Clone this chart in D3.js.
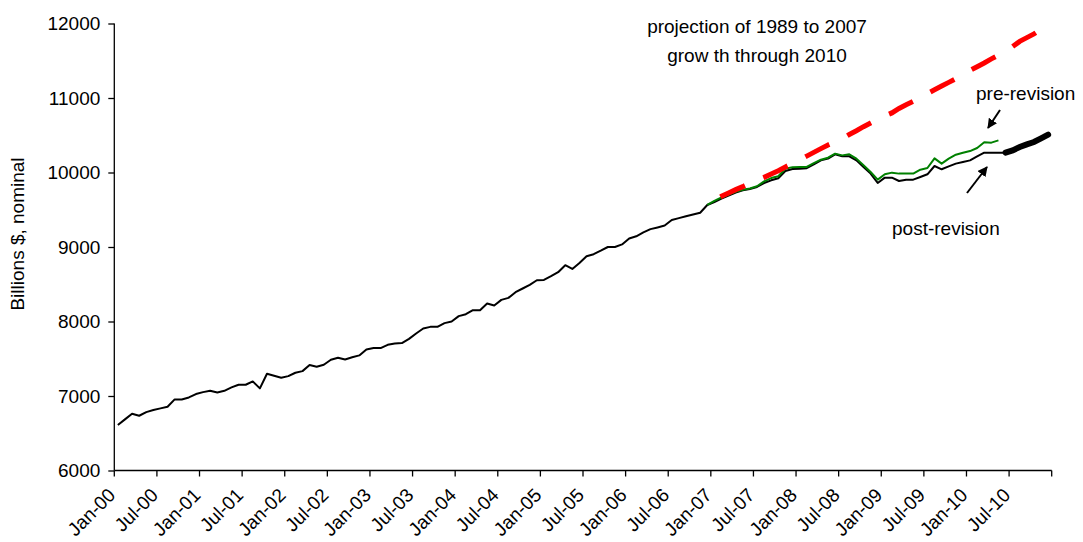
<!doctype html>
<html lang="en">
<head>
  <style>
    body { margin: 0; background: #fff; }
    svg text { font-family: "Liberation Sans", Arial, sans-serif; fill: #000; }
    .axis path, .axis line { stroke: #000; stroke-width: 1.3; }
    .axis text { font-size: 19px; }
    .note { font-size: 19px; }
  </style>
  <script src="https://d3js.org/d3.v7.min.js"></script>
</head>
<body>
  <script>
    // categories: one per month, Jan-00 .. Dec-10
    const monthNames = ["Jan","Feb","Mar","Apr","May","Jun","Jul","Aug","Sep","Oct","Nov","Dec"];
    const yearLabels = ["00","01","02","03","04","05","06","07","08","09","10"];
    const yTicks = [6000, 7000, 8000, 9000, 10000, 11000, 12000];

    // post-revision series, starts Jan-00
    const postStart = "Jan-00";
    const postRevision = [
      6610, 6686, 6762, 6735, 6784, 6811, 6834, 6856, 6954, 6954, 6981, 7026,
      7052, 7070, 7048, 7070, 7115, 7151, 7151, 7196, 7102, 7298, 7271, 7245,
      7267, 7312, 7334, 7415, 7392, 7419, 7486, 7513, 7491, 7520, 7545, 7625,
      7643, 7643, 7687, 7705, 7710, 7767, 7839, 7906, 7928, 7928, 7978, 8000,
      8072, 8098, 8152, 8152, 8242, 8215, 8290, 8317, 8393, 8443, 8492, 8554,
      8558, 8608, 8662, 8756, 8706, 8785, 8876, 8903, 8950, 9000, 9000, 9035,
      9115, 9144, 9196, 9240, 9263, 9288, 9363, 9388, 9412, 9435, 9460, 9564,
      9604, 9649, 9690, 9730, 9761, 9779, 9806, 9859, 9895, 9922, 10020, 10047,
      10050, 10058, 10110, 10163, 10186, 10244, 10217, 10217, 10163, 10073, 9985, 9859,
      9931, 9931, 9886, 9904, 9904, 9940, 9976, 10087, 10043, 10083, 10119, 10141,
      10163, 10217, 10266, 10266, 10266, 10266
    ];

    // pre-revision series, starts Dec-06
    const preStart = "Dec-06";
    const preRevision = [
      9564, 9620, 9665, 9705, 9742, 9768, 9785, 9815, 9880, 9925, 9950, 10050,
      10072, 10073, 10075, 10127, 10172, 10199, 10253, 10230, 10244, 10186, 10096, 10007,
      9904, 9976, 9998, 9985, 9985, 9985, 10038, 10060, 10190, 10119, 10186, 10239,
      10266, 10288, 10329, 10405, 10401, 10431
    ];

    // latest months (thick), starts Jun-10
    const latestStart = "Jun-10";
    const latest = [10266, 10297, 10342, 10378, 10409, 10458, 10508];

    // projection of 1989-2007 growth, starts Jan-07
    const projStart = "Jan-07";
    const projection = [
      9625, 9680, 9725, 9770, 9810, 9855, 9895, 9935, 9980, 10025, 10075, 10120,
      10170, 10220, 10270, 10320, 10370, 10410, 10455, 10510, 10560, 10615, 10665, 10715,
      10760, 10800, 10860, 10910, 10955, 11000, 11060, 11110, 11160, 11210, 11260, 11320,
      11370, 11420, 11470, 11525, 11575, 11630, 11690, 11760, 11810, 11860, 11920, 11975
    ];

    const categories = [];
    yearLabels.forEach(yr => monthNames.forEach(m => categories.push(m + "-" + yr)));

    const W = 1083, H = 542;
    const plotLeft = 114.3, plotRight = 1051.7, plotTop = 23.5, plotBottom = 470.5;

    const svg = d3.select("body").append("svg")
      .attr("width", W).attr("height", H);

    const x = d3.scaleBand().domain(categories).range([plotLeft, plotRight]).padding(0);
    const y = d3.scaleLinear().domain([6000, 12000]).range([plotBottom, plotTop]);
    const cx = c => x(c) + x.bandwidth() / 2;

    // x axis
    const xg = svg.append("g").attr("class", "axis")
      .attr("transform", `translate(0,${plotBottom})`);
    xg.append("line").attr("x1", plotLeft).attr("x2", plotRight).attr("y1", 0).attr("y2", 0);
    const tickCats = categories.filter((c, i) => i % 6 === 0);
    xg.selectAll(".tk").data(tickCats.concat([null])).enter().append("line")
      .attr("class", "tk")
      .attr("x1", d => d ? x(d) : plotRight).attr("x2", d => d ? x(d) : plotRight)
      .attr("y1", 0).attr("y2", 6);
    xg.selectAll(".lbl").data(tickCats).enter().append("text")
      .attr("class", "lbl")
      .attr("text-anchor", "end")
      .attr("transform", d => `translate(${cx(d) - 6},${21}) rotate(-45)`)
      .attr("dy", "0.35em")
      .text(d => d);

    // y axis
    svg.append("g").attr("class", "axis")
      .attr("transform", `translate(${plotLeft},0)`)
      .call(d3.axisLeft(y).tickValues(yTicks).tickSize(6).tickPadding(8).tickFormat(d3.format("d")))
      .call(g => g.select(".domain").attr("d", `M0,${plotBottom}V${plotTop}`));

    svg.append("text")
      .attr("class", "note")
      .attr("transform", "translate(24,234) rotate(-90)")
      .attr("text-anchor", "middle")
      .text("Billions $, nominal");

    const line = d3.line().x(d => cx(d.c)).y(d => y(d.v));
    const toPts = (start, vals) => {
      const s = categories.indexOf(start);
      return vals.map((v, i) => ({ c: categories[s + i], v }));
    };

    svg.append("path").datum(toPts(postStart, postRevision))
      .attr("d", line).attr("fill", "none")
      .attr("stroke", "#000").attr("stroke-width", 2).attr("stroke-linejoin", "round");

    svg.append("path").datum(toPts(preStart, preRevision))
      .attr("d", line).attr("fill", "none")
      .attr("stroke", "#008000").attr("stroke-width", 2).attr("stroke-linejoin", "round");

    svg.append("path").datum(toPts(projStart, projection))
      .attr("d", line).attr("fill", "none")
      .attr("stroke", "#ff0000").attr("stroke-width", 5)
      .attr("stroke-dasharray", "27,20").attr("stroke-dashoffset", 40);

    svg.append("path").datum(toPts(latestStart, latest))
      .attr("d", line).attr("fill", "none")
      .attr("stroke", "#000").attr("stroke-width", 6).attr("stroke-linecap", "round");

    // annotations
    svg.append("text").attr("class", "note").attr("x", 757).attr("y", 33)
      .attr("text-anchor", "middle").text("projection of 1989 to 2007");
    svg.append("text").attr("class", "note").attr("x", 757).attr("y", 62)
      .attr("text-anchor", "middle").text("grow th through 2010");
    svg.append("text").attr("class", "note").attr("x", 976).attr("y", 100)
      .text("pre-revision");
    svg.append("text").attr("class", "note").attr("x", 892).attr("y", 235)
      .text("post-revision");

    svg.append("defs").append("marker")
      .attr("id", "arr").attr("viewBox", "0 0 10 10")
      .attr("refX", 9).attr("refY", 5)
      .attr("markerWidth", 5).attr("markerHeight", 5)
      .attr("orient", "auto")
      .append("path").attr("d", "M0,0L10,5L0,10z").attr("fill", "#000");

    const arrows = [[1000, 110, 988, 128], [967, 193, 987, 167]];
    svg.selectAll(".arrow").data(arrows).enter().append("line")
      .attr("class", "arrow")
      .attr("x1", d => d[0]).attr("y1", d => d[1])
      .attr("x2", d => d[2]).attr("y2", d => d[3])
      .attr("stroke", "#000").attr("stroke-width", 2)
      .attr("marker-end", "url(#arr)");
  </script>
</body>
</html>
